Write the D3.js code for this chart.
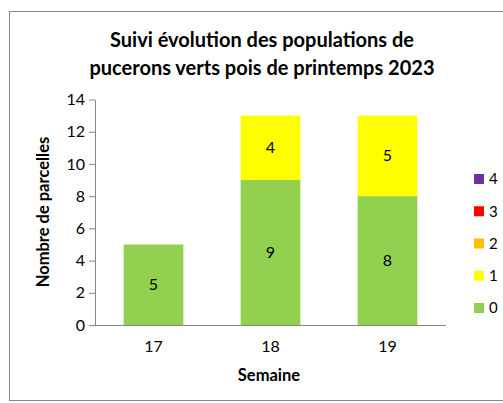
<!DOCTYPE html>
<html>
<head>
<meta charset="utf-8">
<script src="https://cdn.jsdelivr.net/npm/d3@7"></script>
<style>
  body { margin: 0; background: #fff; }
  svg text { font-family: Lato, "Open Sans", sans-serif; }
</style>
</head>
<body>
<svg id="chart" width="503" height="403"></svg>
<script>
// weeks and number of plots per aphid class
const semaines = ["17", "18", "19"];
const classes = ["0", "1", "2", "3", "4"];
const valeurs = {
    "0": [5, 9, 8],
    "1": [0, 4, 5],
    "2": [0, 0, 0],
    "3": [0, 0, 0],
    "4": [0, 0, 0]
};
const couleurs = ["#92D050", "#FFFF00", "#FFC000", "#FF0000", "#7030A0"];
const yTicks = [0, 2, 4, 6, 8, 10, 12, 14];

const svg = d3.select("#chart");

// outer frame
svg.append("rect")
    .attr("x", 9.5).attr("y", 11.5).attr("width", 500).attr("height", 389)
    .attr("fill", "#fff").attr("stroke", "#868686").attr("stroke-width", 1);

const m = { left: 95, right: 446, top: 99.5, bottom: 325 };

const x = d3.scaleBand().domain(semaines).range([m.left, m.right]).paddingInner(0.49).paddingOuter(0.245);
const y = d3.scaleLinear().domain([0, 14]).range([m.bottom, m.top]);

const rows = semaines.map((s, i) => {
    const r = { semaine: s };
    classes.forEach(c => r[c] = valeurs[c][i]);
    return r;
});
const stack = d3.stack().keys(classes)(rows);
const color = d3.scaleOrdinal().domain(classes).range(couleurs);

// bars + value labels
const g = svg.append("g");
stack.forEach(layer => {
    const seg = layer.filter(d => d[1] > d[0]);
    g.selectAll(null).data(seg)
        .join("rect")
        .attr("x", d => x(d.data.semaine))
        .attr("width", x.bandwidth())
        .attr("y", d => y(d[1]))
        .attr("height", d => y(d[0]) - y(d[1]))
        .attr("fill", color(layer.key));
    g.selectAll(null).data(seg)
        .join("text")
        .attr("x", d => x(d.data.semaine) + x.bandwidth() / 2)
        .attr("y", d => y((d[0] + d[1]) / 2))
        .attr("dy", "0.35em")
        .attr("text-anchor", "middle")
        .attr("font-size", 16)
        .attr("fill", "#000")
        .text(d => d[1] - d[0]);
});

// y axis
const yAxis = svg.append("g").attr("transform", `translate(${m.left},0)`)
    .call(d3.axisLeft(y).tickValues(yTicks).tickSize(6).tickSizeOuter(0));
yAxis.select(".domain").attr("stroke", "#868686");
yAxis.selectAll(".tick line").attr("stroke", "#868686");
yAxis.selectAll(".tick text").attr("font-size", 16).attr("fill", "#000").attr("x", -10);

// x axis
const xAxis = svg.append("g").attr("transform", `translate(0,${m.bottom})`)
    .call(d3.axisBottom(x).tickSize(0).tickSizeOuter(0));
xAxis.select(".domain").attr("stroke", "#868686").attr("d", `M${m.left},0.5H${m.right}`);
xAxis.selectAll(".tick text").attr("font-size", 16).attr("fill", "#000").attr("y", 16);

// titles
svg.append("text").attr("x", 262).attr("y", 47).attr("text-anchor", "middle")
    .attr("font-size", 20).attr("font-weight", "bold").text("Suivi évolution des populations de");
svg.append("text").attr("x", 262).attr("y", 75).attr("text-anchor", "middle")
    .attr("font-size", 20).attr("font-weight", "bold").text("pucerons verts pois de printemps 2023");
svg.append("text").attr("x", 269).attr("y", 381).attr("text-anchor", "middle")
    .attr("font-size", 16.5).attr("font-weight", "bold").text("Semaine");
svg.append("text").attr("transform", "translate(49,212) rotate(-90)").attr("text-anchor", "middle")
    .attr("font-size", 16.5).attr("font-weight", "bold").text("Nombre de parcelles");

// legend (reverse order, top = 4)
const leg = svg.append("g");
const legY = d3.scalePoint().domain(classes.slice().reverse()).range([179, 308]);
leg.selectAll("rect").data(classes).join("rect")
    .attr("x", 474).attr("y", d => legY(d) - 5).attr("width", 10).attr("height", 10)
    .attr("fill", d => color(d));
leg.selectAll("text").data(classes).join("text")
    .attr("x", 489).attr("y", d => legY(d)).attr("dy", "0.35em")
    .attr("font-size", 15).attr("fill", "#000").text(d => d);
</script>
</body>
</html>
